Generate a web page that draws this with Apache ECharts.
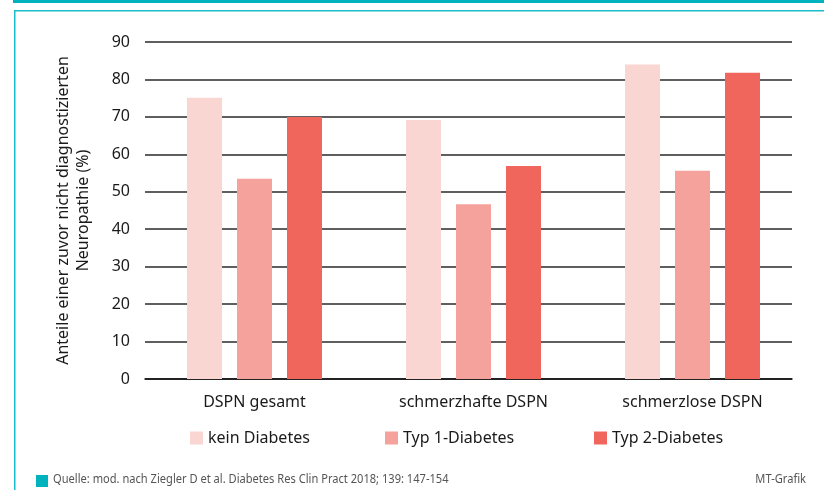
<!DOCTYPE html>
<html>
<head>
<meta charset="utf-8">
<script src="https://cdn.jsdelivr.net/npm/echarts@6/dist/echarts.min.js"></script>
<style>
html,body{margin:0;padding:0;background:#fff;}
#chart{width:824px;height:490px;}
</style>
</head>
<body>
<div id="chart"></div>
<script>
const categories = ['DSPN gesamt', 'schmerzhafte DSPN', 'schmerzlose DSPN'];
const seriesNames = ['kein Diabetes', 'Typ 1-Diabetes', 'Typ 2-Diabetes'];
const keinDiabetes = [75.1, 69.2, 84.0];
const typ1Diabetes = [53.5, 46.7, 55.6];
const typ2Diabetes = [70.0, 56.9, 81.8];
const yTicks = [0, 10, 20, 30, 40, 50, 60, 70, 80, 90];
const yAxisTitle = 'Anteile einer zuvor nicht diagnostizierten\nNeuropathie (%)';
const sourceText = 'Quelle: mod. nach Ziegler D et al. Diabetes Res Clin Pract 2018; 139: 147-154';
const creditText = 'MT-Grafik';

const colors = ['#fad6d3', '#f6a29c', '#f1665c'];
const FONT = '"Noto Sans", "Open Sans", sans-serif';

const chart = echarts.init(document.getElementById('chart'), null, {renderer: 'canvas'});

const yMin = yTicks[0], yMax = yTicks[yTicks.length - 1], yStep = yTicks[1] - yTicks[0];

const option = {
  animation: false,
  backgroundColor: '#fff',
  grid: [
    {left: 145, width: 647, top: 42, bottom: 111},
    {left: 145, width: 657, top: 42, bottom: 111}
  ],
  xAxis: [
    {
      gridIndex: 0, type: 'value', min: 0, max: 1,
      axisLine: {show: true, onZero: false, lineStyle: {color: '#111', width: 1.5}},
      axisTick: {show: false}, axisLabel: {show: false}, splitLine: {show: false}
    },
    {
      gridIndex: 1, type: 'category', data: categories,
      axisLine: {show: false}, axisTick: {show: false},
      axisLabel: {show: true, margin: 15, fontSize: 16, color: '#1a1a1a', fontFamily: FONT}
    }
  ],
  yAxis: [
    {
      gridIndex: 0, type: 'value', min: yMin, max: yMax, interval: yStep,
      axisLine: {show: false}, axisTick: {show: false},
      axisLabel: {margin: 15, fontSize: 16, color: '#1a1a1a', fontFamily: FONT},
      splitLine: {show: true, lineStyle: {color: '#2a2a2a', width: 1.5}},
      name: yAxisTitle, nameLocation: 'middle', nameRotate: 90, nameGap: 52,
      nameTextStyle: {fontSize: 16, color: '#1a1a1a', fontFamily: FONT, lineHeight: 20, align: 'center'}
    },
    {
      gridIndex: 1, type: 'value', min: yMin, max: yMax, interval: yStep, show: false
    }
  ],
  legend: seriesNames.map((n, i) => ({
    data: [n],
    left: [190, 385, 594][i],
    top: 430,
    padding: 0,
    itemWidth: 13, itemHeight: 13, itemGap: 5,
    icon: 'rect',
    textStyle: {fontSize: 16, color: '#1a1a1a', fontFamily: FONT}
  })),
  series: [
    {name: seriesNames[0], type: 'bar', xAxisIndex: 1, yAxisIndex: 1, data: keinDiabetes,
     barWidth: 35, barGap: '42.857%', itemStyle: {color: colors[0]}},
    {name: seriesNames[1], type: 'bar', xAxisIndex: 1, yAxisIndex: 1, data: typ1Diabetes,
     barWidth: 35, barGap: '42.857%', itemStyle: {color: colors[1]}},
    {name: seriesNames[2], type: 'bar', xAxisIndex: 1, yAxisIndex: 1, data: typ2Diabetes,
     barWidth: 35, barGap: '42.857%', itemStyle: {color: colors[2]}}
  ],
  graphic: [
    {type: 'rect', shape: {x: 13, y: 0, width: 811, height: 3}, style: {fill: '#00b2bd'}, silent: true},
    {type: 'rect', shape: {x: 14, y: 10, width: 810, height: 1.5}, style: {fill: '#1bbecb'}, silent: true},
    {type: 'rect', shape: {x: 14, y: 10, width: 1.5, height: 480}, style: {fill: '#1bbecb'}, silent: true},
    {type: 'rect', shape: {x: 36, y: 475, width: 12, height: 12}, style: {fill: '#00b2bd'}, silent: true},
    {type: 'text', x: 53, y: 474, scaleX: 0.925,
     style: {text: sourceText, fontSize: 12, fill: '#555', fontFamily: FONT}},
    {type: 'text', x: 806, y: 474, scaleX: 0.925,
     style: {text: creditText, fontSize: 12, fill: '#555', fontFamily: FONT, align: 'right'}}
  ]
};

chart.setOption(option);
</script>
</body>
</html>
